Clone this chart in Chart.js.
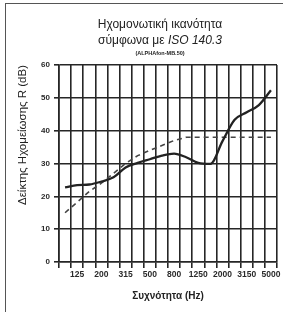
<!DOCTYPE html>
<html>
<head>
<meta charset="utf-8">
<script src="https://cdn.jsdelivr.net/npm/chart.js@4/dist/chart.umd.min.js"></script>
<style>
  html, body { margin: 0; padding: 0; background: #fff; }
  #wrap { position: relative; width: 283px; height: 312px; }
  #frame { position: absolute; left: 5px; top: 3px; right: -2px; bottom: -2px;
           border-left: 1.5px solid #555; border-top: 1.5px solid #555; pointer-events: none; }
</style>
</head>
<body>
<div id="wrap">
  <canvas id="soundChart" width="283" height="312"></canvas>
  <div id="frame"></div>
</div>
<script>
const bands = ['100', '125', '160', '200', '250', '315', '400', '500', '630', '800',
               '1000', '1250', '1600', '2000', '2500', '3150', '4000', '5000'];
// measured sound reduction index R (dB)
const measured = [22.7, 23.4, 23.6, 24.5, 25.8, 28.8, 30.2, 31.3, 32.4, 33.0,
                  31.9, 30.2, 29.9, 36.8, 43.3, 45.6, 47.8, 52.3];
// shifted reference curve
const reference = [15, 18.2, 21.5, 24, 27, 30, 32.4, 34, 35.5, 37,
                   38, 38, 38, 38, 38, 38, 38, 38];
const yTicks = [0, 10, 20, 30, 40, 50, 60];

const titleLines = [
    [{ text: 'Ηχομονωτική ικανότητα', font: '12px "Liberation Sans"' }],
    [{ text: 'σύμφωνα με ', font: '12px "Liberation Sans"' },
     { text: 'ISO 140.3', font: 'italic 12px "Liberation Sans"' }],
    [{ text: '(ALPHAfon-MB.50)', font: 'bold 5.5px "Liberation Sans"' }]
];

const titlePlugin = {
    id: 'titleBlock',
    afterDraw(chart) {
        const ctx = chart.ctx;
        const cx = 160;
        const ys = [25, 41, 53];
        ctx.save();
        ctx.fillStyle = '#222';
        ctx.textBaseline = 'middle';
        ctx.textAlign = 'left';
        titleLines.forEach((parts, i) => {
            let total = 0;
            parts.forEach(p => { ctx.font = p.font; total += ctx.measureText(p.text).width; });
            let x = cx - total / 2;
            parts.forEach(p => {
                ctx.font = p.font;
                ctx.fillText(p.text, x, ys[i]);
                x += ctx.measureText(p.text).width;
            });
        });
        ctx.restore();
    }
};

const gridColor = '#262626';

new Chart(document.getElementById('soundChart').getContext('2d'), {
    type: 'line',
    data: {
        labels: bands,
        datasets: [
            { label: 'R', data: measured, borderColor: '#222', borderWidth: 2.3,
              pointRadius: 0, fill: false, cubicInterpolationMode: 'monotone' },
            { label: 'Ref', data: reference, borderColor: '#444', borderWidth: 1.6,
              borderDash: [5, 4], pointRadius: 0, fill: false, tension: 0 }
        ]
    },
    options: {
        responsive: false,
        animation: false,
        layout: { padding: { left: 14, right: 6, top: 65, bottom: 6 } },
        plugins: { legend: { display: false }, tooltip: { enabled: false }, title: { display: false } },
        scales: {
            x: {
                offset: true,
                grid: { offset: true, color: gridColor, lineWidth: 1.6, tickLength: 6 },
                border: { color: gridColor, width: 1.6 },
                ticks: {
                    autoSkip: false, maxRotation: 0, minRotation: 0, padding: 2,
                    color: '#2a2a2a', font: { family: 'Liberation Sans', size: 8.5, weight: 'bold' },
                    callback: (v, i) => (i % 2 === 1 ? bands[i] : '')
                },
                title: { display: true, text: 'Συχνότητα (Hz)', color: '#222',
                         font: { family: 'Liberation Sans', size: 10, weight: 'bold' }, padding: { top: 10 } },
                afterFit: s => { s.height = 44; }
            },
            y: {
                min: 0, max: 60,
                afterBuildTicks: s => { s.ticks = yTicks.map(v => ({ value: v })); },
                grid: { color: gridColor, lineWidth: 1.6, tickLength: 5 },
                border: { color: gridColor, width: 1.6 },
                ticks: { color: '#2a2a2a', padding: 4, font: { family: 'Liberation Sans', size: 8, weight: 'bold' } },
                title: { display: true, text: 'Δείκτης Ηχομείωσης R (dB)', color: '#222', align: 'end',
                         font: { family: 'Liberation Sans', size: 11.5 }, padding: { top: 2, bottom: 2 } },
                afterFit: s => { s.width = 45; }
            }
        }
    },
    plugins: [titlePlugin]
});
</script>
</body>
</html>
